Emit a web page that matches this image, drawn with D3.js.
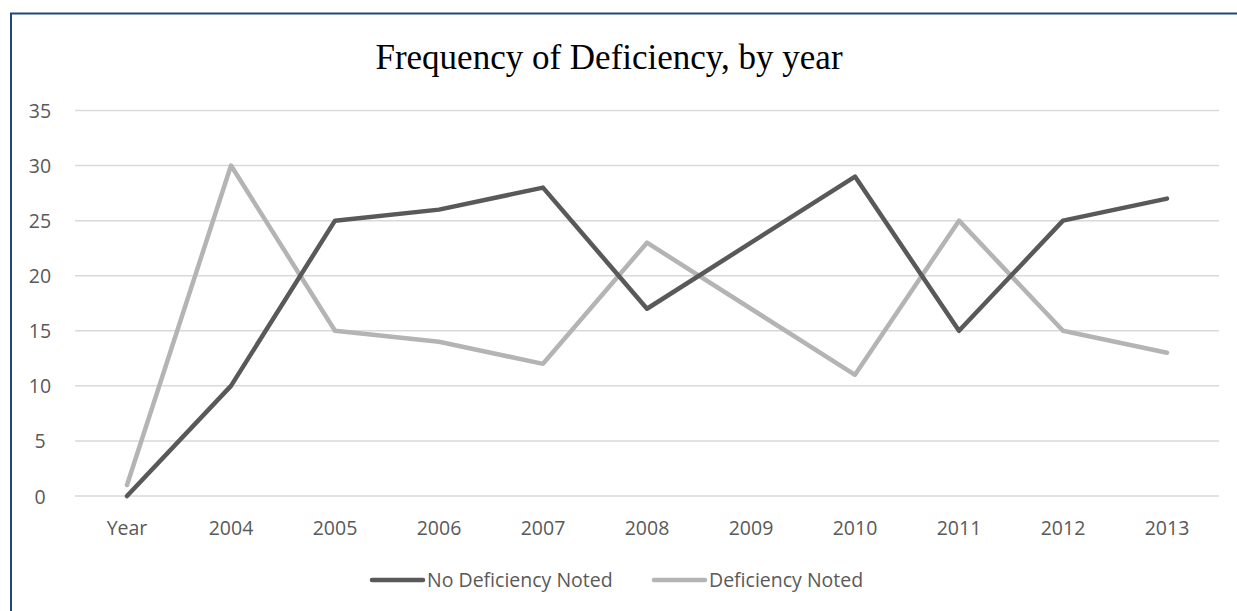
<!DOCTYPE html>
<html>
<head>
<meta charset="utf-8">
<script src="https://cdn.jsdelivr.net/npm/d3@7"></script>
<style>
  html, body { margin: 0; padding: 0; background: #fff; }
  svg { display: block; }
</style>
</head>
<body>
<svg id="chart" width="1237" height="611"></svg>
<script>
// Inspection outcomes per year
const categories = ["Year", "2004", "2005", "2006", "2007", "2008", "2009", "2010", "2011", "2012", "2013"];
const noDeficiency = [0, 10, 25, 26, 28, 17, 23, 29, 15, 25, 27];
const deficiency = [1, 30, 15, 14, 12, 23, 17, 11, 25, 15, 13];
const yTicks = [0, 5, 10, 15, 20, 25, 30, 35];
const seriesNames = ["No Deficiency Noted", "Deficiency Noted"];
const seriesColors = ["#595959", "#b4b4b4"];

const series = [
  { name: seriesNames[0], values: noDeficiency, color: seriesColors[0] },
  { name: seriesNames[1], values: deficiency, color: seriesColors[1] }
];

const W = 1237, H = 611;
const margin = { left: 75, right: 18, top: 110.5, bottom: 115 };
const svg = d3.select("#chart");

// Outer frame (left and top edges)
svg.append("path")
  .attr("d", `M11,${H} L11,13.5 L${W},13.5`)
  .attr("fill", "none")
  .attr("stroke", "#1f497d")
  .attr("stroke-width", 2);

// Title
svg.append("text")
  .attr("x", 609)
  .attr("y", 69)
  .attr("text-anchor", "middle")
  .attr("font-family", "'Liberation Serif', 'Times New Roman', serif")
  .attr("font-size", 35)
  .attr("fill", "#000")
  .text("Frequency of Deficiency, by year");

const x = d3.scaleBand()
  .domain(categories)
  .range([margin.left, W - margin.right])
  .paddingInner(0).paddingOuter(0);

const y = d3.scaleLinear()
  .domain([0, 35])
  .range([496, margin.top]);

const font = "'Open Sans', 'Liberation Sans', sans-serif";
const labelSize = 19.5;

// Gridlines
svg.append("g")
  .selectAll("line")
  .data(yTicks)
  .join("line")
  .attr("x1", margin.left)
  .attr("x2", W - margin.right)
  .attr("y1", d => y(d))
  .attr("y2", d => y(d))
  .attr("stroke", "#d9d9d9")
  .attr("stroke-width", 1.5);

// Y axis labels
const yAxis = d3.axisLeft(y).tickValues(yTicks).tickSize(0).tickPadding(0);
const yG = svg.append("g")
  .attr("transform", `translate(${40},0)`)
  .call(yAxis);
yG.select(".domain").remove();
yG.selectAll("text")
  .attr("font-family", font)
  .attr("font-size", labelSize)
  .attr("fill", "#595959")
  .attr("text-anchor", "middle")
  .attr("dy", "0.36em");

// X axis labels
const xAxis = d3.axisBottom(x).tickSize(0).tickPadding(0);
const xG = svg.append("g")
  .attr("transform", `translate(0,${496})`)
  .call(xAxis);
xG.select(".domain").remove();
xG.selectAll("text")
  .attr("font-family", font)
  .attr("font-size", labelSize)
  .attr("fill", "#595959")
  .attr("dy", 0)
  .attr("y", 39);

// Series lines
const line = d3.line()
  .x((d, i) => x(categories[i]) + x.bandwidth() / 2)
  .y(d => y(d));

svg.append("g")
  .selectAll("path")
  .data(series.slice().reverse())
  .join("path")
  .attr("d", d => line(d.values))
  .attr("fill", "none")
  .attr("stroke", d => d.color)
  .attr("stroke-width", 4.5)
  .attr("stroke-linejoin", "round")
  .attr("stroke-linecap", "round");

// Legend
const legendX = [372, 654];
const legend = svg.append("g")
  .selectAll("g")
  .data(series)
  .join("g")
  .attr("transform", (d, i) => `translate(${legendX[i]},${580})`);
legend.append("line")
  .attr("x1", 0).attr("x2", 51)
  .attr("y1", 0).attr("y2", 0)
  .attr("stroke", d => d.color)
  .attr("stroke-width", 4.5)
  .attr("stroke-linecap", "round");
legend.append("text")
  .attr("x", 55)
  .attr("y", 0)
  .attr("dy", "0.36em")
  .attr("font-family", font)
  .attr("font-size", labelSize)
  .attr("fill", "#595959")
  .text(d => d.name);
</script>
</body>
</html>
